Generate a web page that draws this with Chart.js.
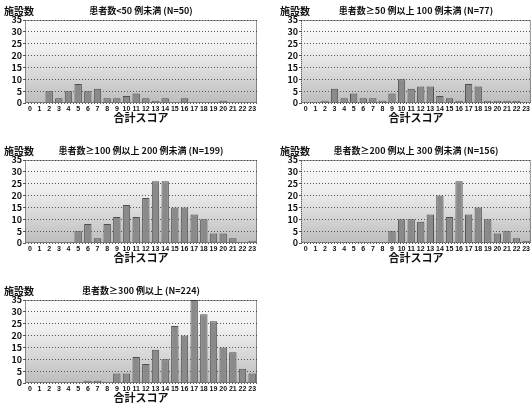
<!DOCTYPE html>
<html>
<head>
<meta charset="utf-8">
<script src="https://cdn.jsdelivr.net/npm/chart.js@4/dist/chart.umd.min.js"></script>
<style>
  body { margin: 0; background: #fff; }
  #wrap { position: relative; width: 532px; height: 403px; overflow: hidden; }
  canvas { position: absolute; }
</style>
</head>
<body>
<div id="wrap">
  <canvas id="c1" width="266" height="124" style="left:0;top:0"></canvas>
  <canvas id="c2" width="256" height="124" style="left:276px;top:0"></canvas>
  <canvas id="c3" width="266" height="124" style="left:0;top:140px"></canvas>
  <canvas id="c4" width="256" height="124" style="left:276px;top:140px"></canvas>
  <canvas id="c5" width="266" height="124" style="left:0;top:280px"></canvas>
</div>
<script>
const scores = ['0','1','2','3','4','5','6','7','8','9','10','11','12','13','14','15','16','17','18','19','20','21','22','23'];

const under50   = [0,0,5,2,5,8,5,6,2,2,3,4,2,1,2,0,2,0,0,0,1,0,0,0];
const from50    = [0,0,1,6,2,4,2,2,1,4,10,6,7,7,3,2,1,8,7,1,1,1,1,0];
const from100   = [0,0,0,0,0,5,8,2,8,11,16,11,19,26,26,15,15,12,10,4,4,2,0,1];
const from200   = [0,0,0,0,0,0,0,0,0,5,10,10,9,12,20,11,26,12,15,10,4,5,2,1];
const from300   = [0,0,0,0,0,0,1,1,0,4,4,11,8,14,10,24,20,35,29,26,15,13,6,4];

const titles = [
  '患者数<50 例未満 (N=50)',
  '患者数≥50 例以上 100 例未満 (N=77)',
  '患者数≥100 例以上 200 例未満 (N=199)',
  '患者数≥200 例以上 300 例未満 (N=156)',
  '患者数≥300 例以上 (N=224)'
];
const yTicks = [0, 5, 10, 15, 20, 25, 30, 35];
const yLabel = '施設数';
const xLabel = '合計スコア';

const FONT = "'Noto Sans CJK JP', 'DejaVu Sans', sans-serif";
const NUM_FONT = "'Liberation Sans', Arial, sans-serif";

// gradient plot background, dotted frame and the two header texts
const panelDeco = {
  id: 'panelDeco',
  beforeDraw(chart) {
    const { ctx, chartArea: a } = chart;
    const g = ctx.createLinearGradient(0, a.top, 0, a.bottom);
    g.addColorStop(0, '#fbfbfb');
    g.addColorStop(0.35, '#efefef');
    g.addColorStop(1, '#bdbdbd');
    ctx.save();
    ctx.fillStyle = g;
    ctx.fillRect(a.left, a.top, a.right - a.left, a.bottom - a.top);
    ctx.restore();
  },
  afterDraw(chart, args, opts) {
    const { ctx, chartArea: a } = chart;
    ctx.save();
    ctx.strokeStyle = '#333';
    ctx.setLineDash([1, 1]);
    ctx.lineWidth = 1;
    ctx.strokeRect(a.left + 0.5, a.top + 0.5, a.right - a.left - 1, a.bottom - a.top - 1);
    ctx.setLineDash([]);
    ctx.fillStyle = '#111';
    ctx.textBaseline = 'middle';
    ctx.font = 'bold 10px ' + FONT;
    ctx.textAlign = 'left';
    ctx.fillText(yLabel, 4, 11);
    ctx.font = 'bold 9px ' + FONT;
    ctx.textAlign = 'center';
    ctx.fillText(opts.title, (a.left + a.right) / 2, 11);
    ctx.restore();
  }
};

function makeChart(id, values, title, padRight) {
  new Chart(document.getElementById(id), {
    type: 'bar',
    data: {
      labels: scores,
      datasets: [{
        data: values,
        backgroundColor: '#8a8a8a',
        borderColor: '#505050',
        borderWidth: 1,
        barPercentage: 0.85,
        categoryPercentage: 0.9
      }]
    },
    options: {
      responsive: false,
      animation: false,
      layout: { padding: { top: 20, right: padRight, left: 0, bottom: 0 } },
      plugins: {
        legend: { display: false },
        tooltip: { enabled: false },
        panelDeco: { title: title }
      },
      scales: {
        x: {
          offset: true,
          grid: { display: false, drawTicks: false, tickLength: 0 },
          border: { display: false },
          ticks: {
            autoSkip: false, maxRotation: 0, padding: 2,
            color: '#111', font: { family: NUM_FONT, size: 7, weight: 'bold' }
          },
          title: {
            display: true, text: xLabel, color: '#111', padding: 0,
            font: { family: FONT, size: 11, weight: 'bold' }
          },
          afterFit(s) { s.height = 21; }
        },
        y: {
          min: 0, max: 35,
          afterBuildTicks(s) { s.ticks = yTicks.map(v => ({ value: v })); },
          grid: { color: '#555', lineWidth: 1, tickLength: 2 },
          border: { display: false, dash: [1, 2] },
          ticks: {
            autoSkip: false, padding: 1, color: '#111',
            font: { family: FONT, size: 9, weight: 'bold' }
          },
          afterFit(s) { s.width = 25; }
        }
      }
    },
    plugins: [panelDeco]
  });
}

makeChart('c1', under50, titles[0], 9);
makeChart('c2', from50, titles[1], 0);
makeChart('c3', from100, titles[2], 9);
makeChart('c4', from200, titles[3], 0);
makeChart('c5', from300, titles[4], 9);
</script>
</body>
</html>
